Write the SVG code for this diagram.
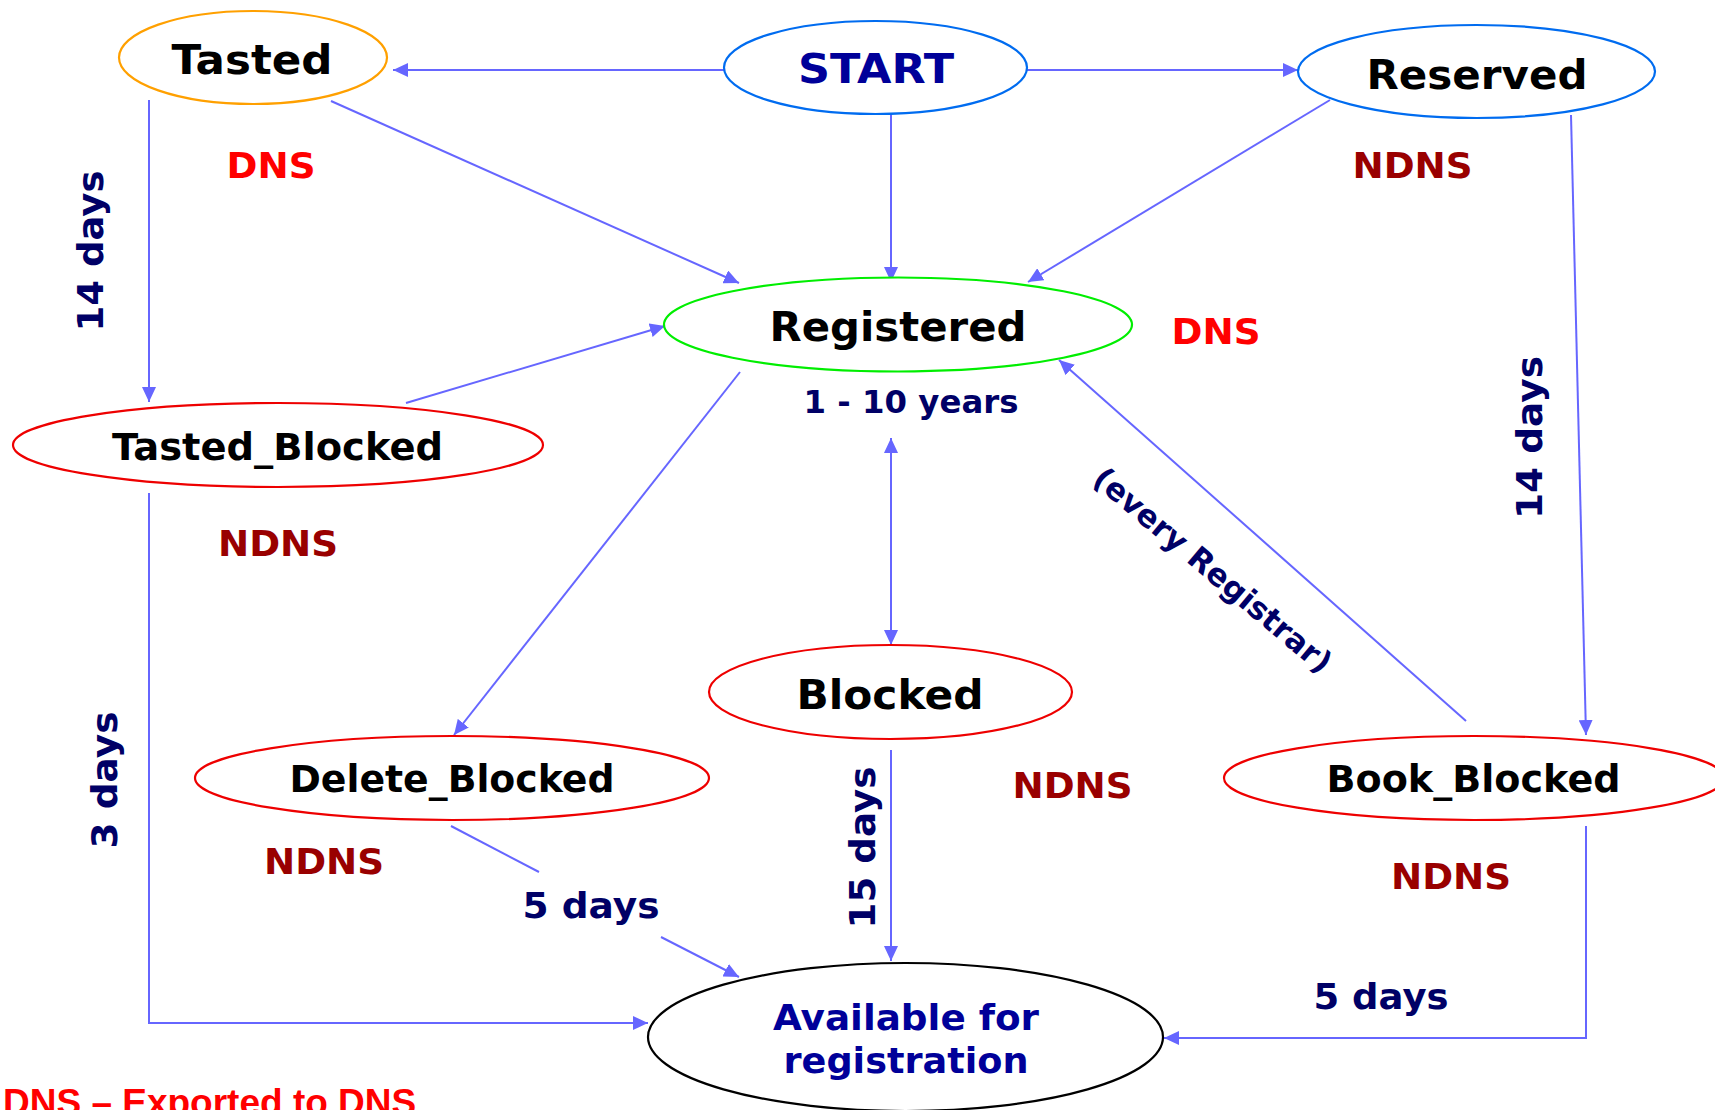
<svg xmlns="http://www.w3.org/2000/svg" width="1715" height="1110" viewBox="0 0 1715 1110">
<style>
.node{fill:#ffffff;stroke-width:2.2}
.lbl{font-family:"DejaVu Sans",Verdana,sans-serif;font-weight:bold;text-anchor:middle}
.nt{font-size:41px;fill:#000000}
.ns{font-size:37px;fill:#000000}
.dns{font-size:36px;fill:#ff0000}
.ndns{font-size:36px;fill:#990000}
.dur{font-size:36px;fill:#000066}
.conn{fill:none;stroke:#6666ff;stroke-width:2}
</style>
<defs>
<marker id="arr" viewBox="0 0 15 14" refX="15" refY="7" markerWidth="15" markerHeight="14" markerUnits="userSpaceOnUse" orient="auto-start-reverse">
<path d="M0,0 L15,7 L0,14 z" fill="#6666ff"/>
</marker>
</defs>
<rect width="1715" height="1110" fill="#ffffff"/>

<g id="connectors">
<path class="conn" d="M724,70 L393,70" marker-end="url(#arr)"/>
<path class="conn" d="M1027,70 L1298,70" marker-end="url(#arr)"/>
<path class="conn" d="M891,115 L891,282" marker-end="url(#arr)"/>
<path class="conn" d="M331,101 L739,283" marker-end="url(#arr)"/>
<path class="conn" d="M1330,100 L1028,282" marker-end="url(#arr)"/>
<path class="conn" d="M149,100 L149,402" marker-end="url(#arr)"/>
<path class="conn" d="M406,403 L665,326" marker-end="url(#arr)"/>
<path class="conn" d="M740,372 L454,735" marker-end="url(#arr)"/>
<path class="conn" d="M891,438 L891,645" marker-start="url(#arr)" marker-end="url(#arr)"/>
<path class="conn" d="M1466,721 L1059,360" marker-end="url(#arr)"/>
<path class="conn" d="M1571,115 L1586,735" marker-end="url(#arr)"/>
<path class="conn" d="M149,493 L149,1023 L648,1023" marker-end="url(#arr)"/>
<path class="conn" d="M451,826 L539,872"/>
<path class="conn" d="M661,937 L739,977" marker-end="url(#arr)"/>
<path class="conn" d="M891,750 L891,961" marker-end="url(#arr)"/>
<path class="conn" d="M1586,826 L1586,1038 L1164,1038" marker-end="url(#arr)"/>
</g>

<g id="tasted">
<ellipse class="node" cx="253" cy="57.5" rx="134" ry="46.5" stroke="#ffa000"/>
<text class="lbl nt" x="252" y="74" textLength="161" lengthAdjust="spacingAndGlyphs">Tasted</text>
</g>
<g id="start">
<ellipse class="node" cx="875.5" cy="67.5" rx="151.5" ry="46.5" stroke="#006cf0"/>
<text class="lbl nt" x="876" y="83" style="fill:#000099" textLength="156" lengthAdjust="spacingAndGlyphs">START</text>
</g>
<g id="reserved">
<ellipse class="node" cx="1476.5" cy="71.5" rx="178.5" ry="46.5" stroke="#006cf0"/>
<text class="lbl nt" x="1477" y="89" textLength="221" lengthAdjust="spacingAndGlyphs">Reserved</text>
</g>
<g id="registered">
<ellipse class="node" cx="898" cy="324.5" rx="234" ry="47" stroke="#00ee00"/>
<text class="lbl nt" x="898" y="341" textLength="257" lengthAdjust="spacingAndGlyphs">Registered</text>
</g>
<g id="tasted_blocked">
<ellipse class="node" cx="278" cy="445" rx="265" ry="42" stroke="#ee0000"/>
<text class="lbl ns" x="277.5" y="460" textLength="331" lengthAdjust="spacingAndGlyphs">Tasted_Blocked</text>
</g>
<g id="blocked">
<ellipse class="node" cx="890.5" cy="692" rx="181.5" ry="47" stroke="#ee0000"/>
<text class="lbl nt" x="890" y="709" textLength="187" lengthAdjust="spacingAndGlyphs">Blocked</text>
</g>
<g id="delete_blocked">
<ellipse class="node" cx="452" cy="778" rx="257" ry="42" stroke="#ee0000"/>
<text class="lbl ns" x="452" y="792" textLength="325" lengthAdjust="spacingAndGlyphs">Delete_Blocked</text>
</g>
<g id="book_blocked">
<ellipse class="node" cx="1474" cy="778" rx="250" ry="42" stroke="#ee0000"/>
<text class="lbl ns" x="1473.5" y="792" textLength="294" lengthAdjust="spacingAndGlyphs">Book_Blocked</text>
</g>
<g id="available">
<ellipse class="node" cx="905.5" cy="1037" rx="257.5" ry="74" stroke="#000000"/>
<text class="lbl" x="906" y="1030" font-size="36" fill="#000099" textLength="266" lengthAdjust="spacingAndGlyphs">Available for</text>
<text class="lbl" x="906" y="1073" font-size="36" fill="#000099" textLength="245" lengthAdjust="spacingAndGlyphs">registration</text>
</g>

<g id="labels">
<text class="lbl dns" x="271" y="178" textLength="89" lengthAdjust="spacingAndGlyphs">DNS</text>
<text class="lbl ndns" x="1412.5" y="178" textLength="120" lengthAdjust="spacingAndGlyphs">NDNS</text>
<text class="lbl dns" x="1216" y="344" textLength="89" lengthAdjust="spacingAndGlyphs">DNS</text>
<text class="lbl ndns" x="278" y="556" textLength="120" lengthAdjust="spacingAndGlyphs">NDNS</text>
<text class="lbl ndns" x="324" y="874" textLength="120" lengthAdjust="spacingAndGlyphs">NDNS</text>
<text class="lbl ndns" x="1072.5" y="798" textLength="120" lengthAdjust="spacingAndGlyphs">NDNS</text>
<text class="lbl ndns" x="1451" y="889" textLength="120" lengthAdjust="spacingAndGlyphs">NDNS</text>
<text class="lbl dur" x="591" y="918" textLength="137" lengthAdjust="spacingAndGlyphs">5 days</text>
<text class="lbl dur" x="1381" y="1009" textLength="135" lengthAdjust="spacingAndGlyphs">5 days</text>
<text class="lbl" x="911" y="413" font-size="32" fill="#000066" textLength="215" lengthAdjust="spacingAndGlyphs">1 - 10 years</text>
<text class="lbl dur" transform="translate(103,251) rotate(-90)" textLength="161" lengthAdjust="spacingAndGlyphs">14 days</text>
<text class="lbl dur" transform="translate(117,780) rotate(-90)" textLength="137" lengthAdjust="spacingAndGlyphs">3 days</text>
<text class="lbl dur" transform="translate(875,847.5) rotate(-90)" textLength="162" lengthAdjust="spacingAndGlyphs">15 days</text>
<text class="lbl dur" transform="translate(1542,437.5) rotate(-90)" textLength="163" lengthAdjust="spacingAndGlyphs">14 days</text>
<text class="lbl" font-size="31" fill="#000066" transform="translate(1213,570) rotate(40)" y="11" textLength="300" lengthAdjust="spacingAndGlyphs">(every Registrar)</text>
<text x="3" y="1115" font-family="'Liberation Sans',Arial,sans-serif" font-weight="bold" font-size="37" fill="#ff0000">DNS – Exported to DNS</text>
</g>
</svg>
